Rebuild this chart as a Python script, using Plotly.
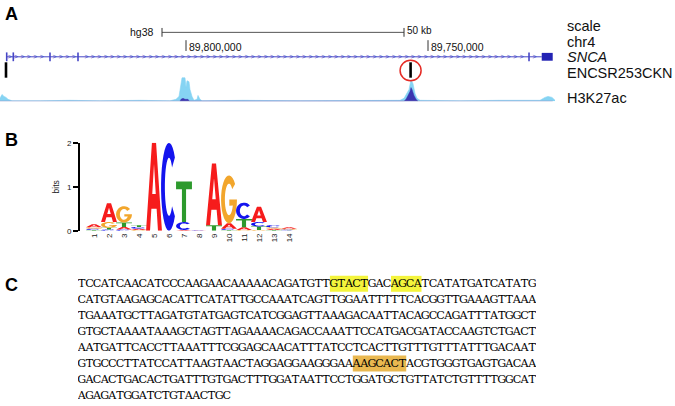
import numpy as np
import plotly.graph_objects as go

# ---------------- data ----------------
# panel A: genome browser view, chr4 (hg38), reversed display
view_left, view_right = 89_838_430, 89_698_970
bp_per_px = (view_left - view_right) / 675

scale_start = 89_804_960
scale_len = 50_000
coord_ticks = [89_800_000, 89_750_000]
coord_labels = ["89,800,000", "89,750,000"]

gene_start, gene_end = 89_837_046, 89_726_507
exons = [89_837_046, 89_835_682, 89_828_100, 89_822_314, 89_729_131]
utr_block = [89_726_507, 89_724_234]

encsr_peaks = [89_837_190, 89_753_600]

h3k27ac_pos = [89_838_430, 89_838_017, 89_837_604, 89_837_190, 89_836_777, 89_836_364,
               89_835_951, 89_830_166, 89_823_967, 89_817_769, 89_809_505, 89_803_306,
               89_802_066, 89_801_447, 89_801_034, 89_800_827, 89_800_207, 89_800_000,
               89_799_793, 89_799_380, 89_799_174, 89_798_760, 89_798_347, 89_797_727,
               89_797_521, 89_797_108, 89_796_694, 89_788_843, 89_788_017, 89_776_447,
               89_766_116, 89_755_786, 89_754_960, 89_754_340, 89_753_927, 89_753_514,
               89_753_101, 89_752_688, 89_752_275, 89_751_656, 89_743_391, 89_735_125,
               89_726_861, 89_725_828, 89_725_208, 89_724_382, 89_723_763]
h3k27ac_val = [3, 7, 5, 4, 2, 1,
               0.5, 0.5, 1, 0.5, 1, 0.5,
               2, 5, 20, 24, 24, 14,
               21, 20, 12, 5, 1, 2,
               6, 2, 0.5, 1.5, 1, 0.5,
               1, 1, 3, 8, 12, 22,
               18, 8, 3, 1, 0.5, 1,
               1, 4, 5, 4, 1]
h3k27ac_dark_pos = [89_801_240, 89_801_034, 89_800_620, 89_800_207, 89_799_587, 89_799_300,
                    89_754_960, 89_754_547, 89_754_133, 89_753_720, 89_753_514, 89_753_307,
                    89_752_894, 89_752_481, 89_752_068]
h3k27ac_dark_val = [0, 2, 3, 2, 2, 0,
                    0, 2, 6, 10, 14, 12,
                    6, 2, 0]

track_labels = ["scale", "chr4", "<i>SNCA</i>", "ENCSR253CKN", "H3K27ac"]

# panel B: motif logo, information (bits) per letter and position
logo_pos = list(range(1, 15))
logo_A = [0.07, 0.43, 0.06, 0.03, 2.00, 0.00, 0.02, 0.01, 1.40, 0.12, 0.06, 0.35, 0.03, 0.03]
logo_C = [0.03, 0.03, 0.03, 0.04, 0.00, 2.00, 0.18, 0.01, 0.00, 0.03, 0.37, 0.10, 0.05, 0.02]
logo_G = [0.03, 0.13, 0.37, 0.02, 0.00, 0.00, 0.00, 0.00, 0.00, 1.09, 0.02, 0.02, 0.03, 0.02]
logo_T = [0.02, 0.04, 0.10, 0.04, 0.00, 0.00, 0.92, 0.00, 0.13, 0.02, 0.19, 0.08, 0.02, 0.01]

# panel C: sequence with highlighted motif hits (line, start, length)
seq_lines = [
    "TCCATCAACATCCCAAGAACAAAAACAGATGTTGTACTGACAGCATCATATGATCATATG",
    "CATGTAAGAGCACATTCATATTGCCAAATCAGTTGGAATTTTTCACGGTTGAAAGTTAAA",
    "TGAAATGCTTAGATGTATGAGTCATCGGAGTTAAAGACAATTACAGCCAGATTTATGGCT",
    "GTGCTAAAATAAAGCTAGTTAGAAAACAGACCAAATTCCATGACGATACCAAGTCTGACT",
    "AATGATTCACCTTAAATTTCGGAGCAACATTTATCCTCACTTGTTTGTTTATTTGACAAT",
    "GTGCCCTTATCCATTAAGTAACTAGGAGGAAGGGAAAAGCACTACGTGGGTGAGTGACAA",
    "GACACTGACACTGATTTGTGACTTTGGATAATTCCTGGATGCTGTTATCTGTTTTGGCAT",
    "AGAGATGGATCTGTAACTGC",
]
hl_line = [1, 1, 6]
hl_start = [33, 41, 36]
hl_len = [5, 4, 7]
hl_color = ["#f4f43c", "#f4f43c", "#e9b850"]

# ---------------- styles ----------------
FONT = "Liberation Sans"
SEQ_FONT = "DejaVu Serif"
GENE = "#4646c6"
LOGO_COL = {"A": "#f61c1c", "C": "#1414ee", "G": "#f2a62c", "T": "#2d9a2d"}


def ellipse(a0, a1, rx, ry, n=28):
    t = np.radians(np.linspace(a0, a1, n))
    return list(zip(0.5 + rx * np.cos(t), 0.5 + ry * np.sin(t)))


GLYPHS = {
    "A": [[(0, 0), (0.37, 1), (0.63, 1), (1, 0), (0.75, 0), (0.665, 0.25), (0.335, 0.25), (0.25, 0)],
          [(0.39, 0.42), (0.61, 0.42), (0.5, 0.76)]],
    "T": [[(0, 1), (1, 1), (1, 0.81), (0.63, 0.81), (0.63, 0), (0.37, 0), (0.37, 0.81), (0, 0.81)]],
    "C": [ellipse(42, 318, 0.5, 0.5) + ellipse(318, 42, 0.26, 0.33)],
    "G": [ellipse(40, 360, 0.5, 0.5) + [(0.52, 0.5), (0.52, 0.37)] + ellipse(337.5, 40, 0.26, 0.33)],
}


def glyph_path(letter, x0, w, y0, h):
    s = ""
    for poly in GLYPHS[letter]:
        s += "M" + "L".join(f"{x0 + u * w:.4f},{y0 + v * h:.5f}" for u, v in poly) + "Z"
    return s


fig = go.Figure()
shapes = []
annotations = []

# ---- panel A ----
fig.add_trace(go.Scatter(x=h3k27ac_pos, y=h3k27ac_val, mode="lines", fill="tozeroy",
                         line=dict(color="#86d4f3", width=0.6), fillcolor="#86d4f3",
                         xaxis="x", yaxis="y", hoverinfo="skip"))
fig.add_trace(go.Scatter(x=h3k27ac_dark_pos, y=h3k27ac_dark_val, mode="lines", fill="tozeroy",
                         line=dict(color="#3a36b0", width=0.5), fillcolor="#3a36b0",
                         xaxis="x", yaxis="y", hoverinfo="skip"))
shapes.append(dict(type="line", xref="x", yref="y", x0=view_left, x1=utr_block[1], y0=0, y1=0,
                   line=dict(color="#8f84bc", width=1)))

# gene model
shapes.append(dict(type="line", xref="x", yref="y4", x0=gene_start, x1=gene_end, y0=54, y1=54,
                   line=dict(color=GENE, width=1)))
for e in exons:
    shapes.append(dict(type="line", xref="x", yref="y4", x0=e, x1=e, y0=49.5, y1=58.5,
                       line=dict(color=GENE, width=1.6)))
shapes.append(dict(type="rect", xref="x", yref="y4", x0=utr_block[0], x1=utr_block[1], y0=50, y1=58,
                   line_width=0, fillcolor="#2323b4"))
chev = np.arange(gene_start - 3 * bp_per_px, gene_end, -6.4 * bp_per_px)
chev = [c for c in chev if min(abs(c - e) for e in exons + utr_block[:1]) > 2.5 * bp_per_px]
fig.add_trace(go.Scatter(x=chev, y=[54] * len(chev), mode="text", text=[">"] * len(chev),
                         textfont=dict(family=FONT, size=7, color=GENE),
                         xaxis="x", yaxis="y4", hoverinfo="skip"))

# ENCODE cCRE-like peak marks
fig.add_trace(go.Scatter(x=encsr_peaks, y=[67.5] * len(encsr_peaks), mode="markers",
                         marker=dict(symbol="line-ns", size=11, line=dict(color="black", width=2.6)),
                         xaxis="x", yaxis="y4", hoverinfo="skip"))
pk = encsr_peaks[1]
r = 10.5 * bp_per_px
shapes.append(dict(type="circle", xref="x", yref="y4", x0=pk - r, x1=pk + r, y0=57.5, y1=78.5,
                   line=dict(color="#e52b25", width=1.5)))

# scale bar and coordinates
scale_end = scale_start - scale_len
shapes.append(dict(type="line", xref="x", yref="y4", x0=scale_start, x1=scale_end, y0=29, y1=29,
                   line=dict(color="#555555", width=1)))
for xb in (scale_start, scale_end):
    shapes.append(dict(type="line", xref="x", yref="y4", x0=xb, x1=xb, y0=24.5, y1=33.5,
                       line=dict(color="#333333", width=1)))
annotations.append(dict(x=scale_start, y=29, xref="x", yref="y4", text="hg38", showarrow=False,
                        xanchor="right", xshift=-6, font=dict(family=FONT, size=10.5, color="#111")))
annotations.append(dict(x=scale_end, y=27, xref="x", yref="y4", text="50 kb", showarrow=False,
                        xanchor="left", xshift=1, font=dict(family=FONT, size=10, color="#111")))
for c, lab in zip(coord_ticks, coord_labels):
    shapes.append(dict(type="line", xref="x", yref="y4", x0=c, x1=c, y0=37, y1=48,
                       line=dict(color="#333333", width=1)))
    annotations.append(dict(x=c, y=43.5, xref="x", yref="y4", text=lab, showarrow=False,
                            xanchor="left", xshift=1, font=dict(family=FONT, size=10.5, color="#111")))

for lab, yy in zip(track_labels, [22.5, 39, 54.5, 71, 96]):
    annotations.append(dict(x=565 / 675, y=yy, xref="paper", yref="y4", text=lab, showarrow=False,
                            xanchor="left", font=dict(family=FONT, size=14.5, color="#111")))

# ---- panel B: sequence logo ----
fig.add_trace(go.Scatter(x=logo_pos, y=[0] * len(logo_pos), mode="markers", marker_opacity=0,
                         xaxis="x2", yaxis="y2", hoverinfo="skip", showlegend=False))
heights = {"A": logo_A, "C": logo_C, "G": logo_G, "T": logo_T}
lw = 1.06
for i, p in enumerate(logo_pos):
    col = sorted(((heights[L][i], L) for L in "ACGT"), key=lambda t: t[0])
    base = 0.0
    for h, L in col:
        if h <= 0:
            continue
        shapes.append(dict(type="path", xref="x2", yref="y2",
                           path=glyph_path(L, p - lw / 2, lw, base, h),
                           fillcolor=LOGO_COL[L], line_width=0, fillrule="evenodd"))
        base += h

# ---- panel C: sequence, one character per column ----
for ln, st, n, colr in zip(hl_line, hl_start, hl_len, hl_color):
    shapes.append(dict(type="rect", xref="x3", yref="y3", x0=st, x1=st + n,
                       y0=ln - 0.52, y1=ln + 0.48, line_width=0, fillcolor=colr, layer="below"))
cx, cy, ch = [], [], []
for k, s in enumerate(seq_lines):
    for j, b in enumerate(s):
        cx.append(j + 0.5)
        cy.append(k + 1)
        ch.append(b)
fig.add_trace(go.Scatter(x=cx, y=cy, mode="text", text=ch,
                         textfont=dict(family=SEQ_FONT, size=11.2, color="#000000"),
                         xaxis="x3", yaxis="y3", hoverinfo="skip"))

# panel letters
for lab, yy in zip("ABC", [10, 139.5, 287.5]):
    annotations.append(dict(x=3 / 675, y=1 - yy / 406, xref="paper", yref="paper", text=f"<b>{lab}</b>",
                            showarrow=False, xanchor="left", yanchor="middle",
                            font=dict(family=FONT, size=18, color="black")))

hidden = dict(visible=False, showgrid=False, zeroline=False, fixedrange=True)
fig.update_layout(
    width=675, height=406, margin=dict(l=0, r=0, t=0, b=0),
    paper_bgcolor="white", plot_bgcolor="rgba(0,0,0,0)", showlegend=False,
    xaxis=dict(hidden, domain=[0, 1], range=[view_left, view_right], anchor="y"),
    yaxis=dict(hidden, domain=[1 - 99.5 / 406, 1 - 64 / 406], range=[0, 35.5], anchor="x"),
    yaxis4=dict(hidden, domain=[0, 1], range=[406, 0], anchor="x"),
    xaxis2=dict(domain=[80 / 675, 300 / 675], range=[1 - 14 / 15, 1 + 206 / 15], anchor="y2",
                tickvals=logo_pos, ticktext=[str(p) for p in logo_pos], tickangle=-90,
                showgrid=False, zeroline=False, showline=False, ticks="",
                tickfont=dict(family=FONT, size=8, color="#222")),
    yaxis2=dict(domain=[1 - 232 / 406, 1 - 142 / 406], range=[0, 2], anchor="x2",
                tickvals=[0, 1, 2], showgrid=False, zeroline=False, showline=True,
                linecolor="black", linewidth=2, ticks="outside", ticklen=5, tickwidth=2,
                tickcolor="black", tickfont=dict(family=FONT, size=8, color="#222"),
                title=dict(text="bits", font=dict(family=FONT, size=8.5, color="#222"), standoff=6)),
    xaxis3=dict(hidden, domain=[78 / 675, 536 / 675], range=[0, 60], anchor="y3"),
    yaxis3=dict(hidden, domain=[0, 1 - 270 / 406], range=[8.331, -0.012], anchor="x3"),
    shapes=shapes, annotations=annotations,
)

# the page's default body margin would shift the figure by 8 px
fig.write_html("out.html", config={"displayModeBar": False},
               post_script="document.body.style.margin='0';"
                           "document.body.style.overflow='hidden';")
